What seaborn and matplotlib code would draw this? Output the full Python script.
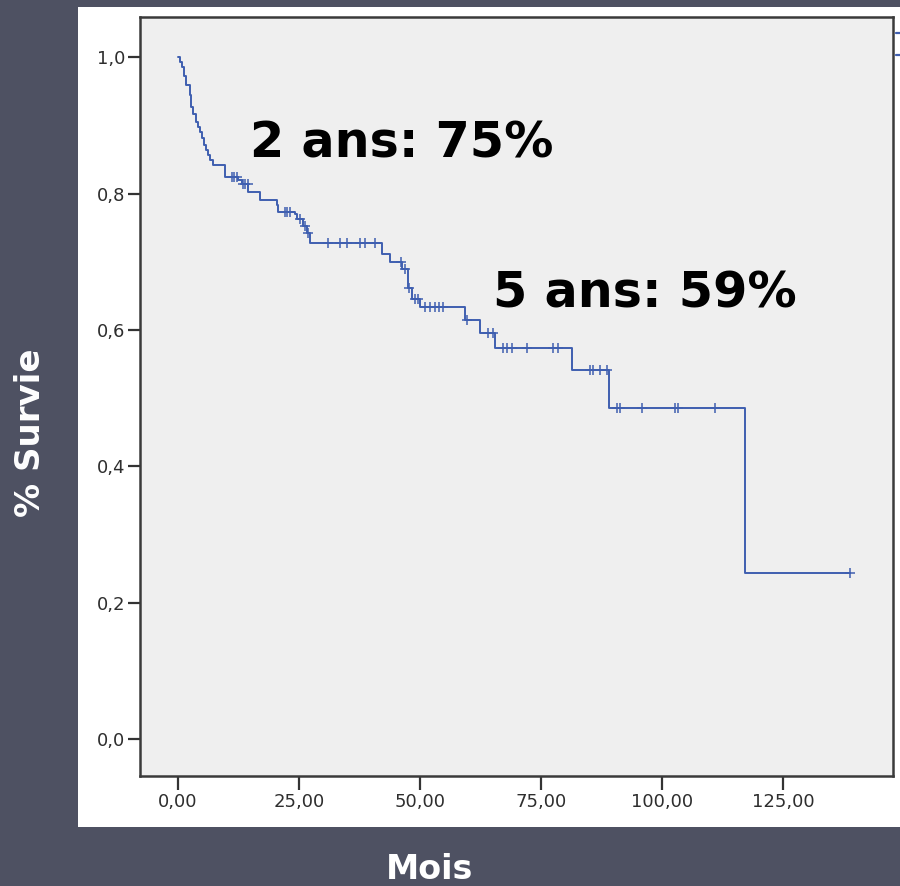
import numpy as np
import pandas as pd
import matplotlib
matplotlib.use("Agg")
import matplotlib.pyplot as plt
from matplotlib.patches import Rectangle
from matplotlib.lines import Line2D
from matplotlib.ticker import FuncFormatter
import seaborn as sns

# Kaplan-Meier step function: month of each event and survival right after it
event_months = [0.5, 0.9, 1.3, 1.7, 2.4, 2.6, 3.1, 3.7, 4.1, 4.5, 4.9, 5.3, 5.7,
                6.1, 6.6, 7.2, 9.7, 12.4, 13.2, 14.5, 16.9, 20.4, 20.7, 24.2,
                24.5, 25.8, 26.6, 27.3, 42.1, 43.8, 46.2, 47.6, 48.3, 50.0,
                59.3, 62.4, 65.4, 81.3, 89.1, 117.1]
survival_after = [0.993, 0.986, 0.972, 0.960, 0.944, 0.927, 0.917, 0.905, 0.897,
                  0.890, 0.882, 0.872, 0.864, 0.856, 0.849, 0.842, 0.824, 0.820,
                  0.814, 0.802, 0.790, 0.783, 0.773, 0.770, 0.763, 0.752, 0.742,
                  0.727, 0.712, 0.700, 0.690, 0.661, 0.646, 0.634, 0.614, 0.595,
                  0.573, 0.541, 0.486, 0.244]

# Censored follow-up times (months)
censor_months = [11.1, 11.6, 12.1, 13.4, 13.9, 14.4, 22.1, 22.6, 23.1, 25.2, 26.2,
                 26.9, 31.0, 33.5, 34.9, 37.6, 38.6, 40.7, 46.0, 46.8, 47.7, 48.9,
                 49.5, 51.0, 52.1, 53.1, 54.0, 54.8, 59.6, 64.0, 65.1, 67.2, 67.9,
                 68.9, 72.0, 77.5, 78.6, 85.1, 85.8, 87.2, 88.6, 90.6, 91.3, 95.8,
                 102.7, 103.2, 111.0, 138.8]

x_ticks = [0, 25, 50, 75, 100, 125]
y_ticks = [0.0, 0.2, 0.4, 0.6, 0.8, 1.0]
milestones = ["2 ans: 75%", "5 ans: 59%"]

step_t = [0.0] + event_months + [censor_months[-1]]
step_s = [1.0] + survival_after + [survival_after[-1]]
curve = pd.DataFrame({"Mois": step_t, "Survie": step_s})

idx = np.searchsorted(step_t, censor_months, side="right") - 1
censored = pd.DataFrame({"Mois": censor_months, "Survie": np.array(step_s)[idx]})

sns.set_style("ticks")
plt.rcParams["font.family"] = ["DejaVu Sans"]

line_color = "#3f5fb0"
slate = "#4e5162"

fig = plt.figure(figsize=(9, 8.86), dpi=100, facecolor=slate)
fig.patches.append(Rectangle((78 / 900, 59 / 886), 1 - 78 / 900, 820 / 886,
                             transform=fig.transFigure, facecolor="white",
                             edgecolor="none", zorder=-10))

ax = fig.add_axes([140 / 900, 110 / 886, 753 / 900, 759 / 886])
ax.set_zorder(1)
ax.set_facecolor("#efefef")

sns.lineplot(data=curve, x="Mois", y="Survie", drawstyle="steps-post",
             estimator=None, sort=True, color=line_color, lw=1.4, ax=ax)
sns.scatterplot(data=censored, x="Mois", y="Survie", marker="+", s=60,
                color=line_color, linewidth=1.1, ax=ax, zorder=3)

ax.set_xlim(-7.85, 147.7)
ax.set_ylim(-0.054, 1.059)
ax.set_xticks(x_ticks)
ax.set_yticks(y_ticks)
ax.xaxis.set_major_formatter(FuncFormatter(lambda v, p: f"{v:.2f}".replace(".", ",")))
ax.yaxis.set_major_formatter(FuncFormatter(lambda v, p: f"{v:.1f}".replace(".", ",")))
ax.set_xlabel("")
ax.set_ylabel("")

for side in ["left", "right", "top", "bottom"]:
    ax.spines[side].set_visible(True)
    ax.spines[side].set_color("#3a3a3a")
    ax.spines[side].set_linewidth(1.8)

ax.tick_params(axis="both", direction="out", width=1.6, color="#333333",
               labelsize=13, labelcolor="#2e2e2e")
ax.tick_params(axis="x", length=10, pad=2)
ax.tick_params(axis="y", length=9, pad=1.5)

ax.text(14.9, 0.853, milestones[0], fontsize=35.5, fontweight="bold",
        color="black", ha="left", va="baseline")
ax.text(65.1, 0.633, milestones[1], fontsize=35.5, fontweight="bold",
        color="black", ha="left", va="baseline")

# Legend keys sit at the right edge of the panel
handles = [Line2D([], [], color=line_color, lw=1.6),
           Line2D([], [], color=line_color, lw=1.6, marker="+", ms=7)]
ax.legend(handles=handles, labels=["", ""], loc="upper left",
          bbox_to_anchor=(896 / 900, 1 - 26 / 886), bbox_transform=fig.transFigure,
          frameon=False, fontsize=11, borderpad=0, borderaxespad=0,
          handlelength=2, handletextpad=0.5, labelspacing=0.45)

fig.text(430 / 900, 7 / 886, "Mois", color="white", fontsize=24,
         fontweight="bold", ha="center", va="baseline")
fig.text(31 / 900, 0.512, "% Survie", color="white", fontsize=24.5,
         fontweight="bold", rotation=90, ha="center", va="center")

fig.savefig("out.png", dpi=100, facecolor=fig.get_facecolor())
